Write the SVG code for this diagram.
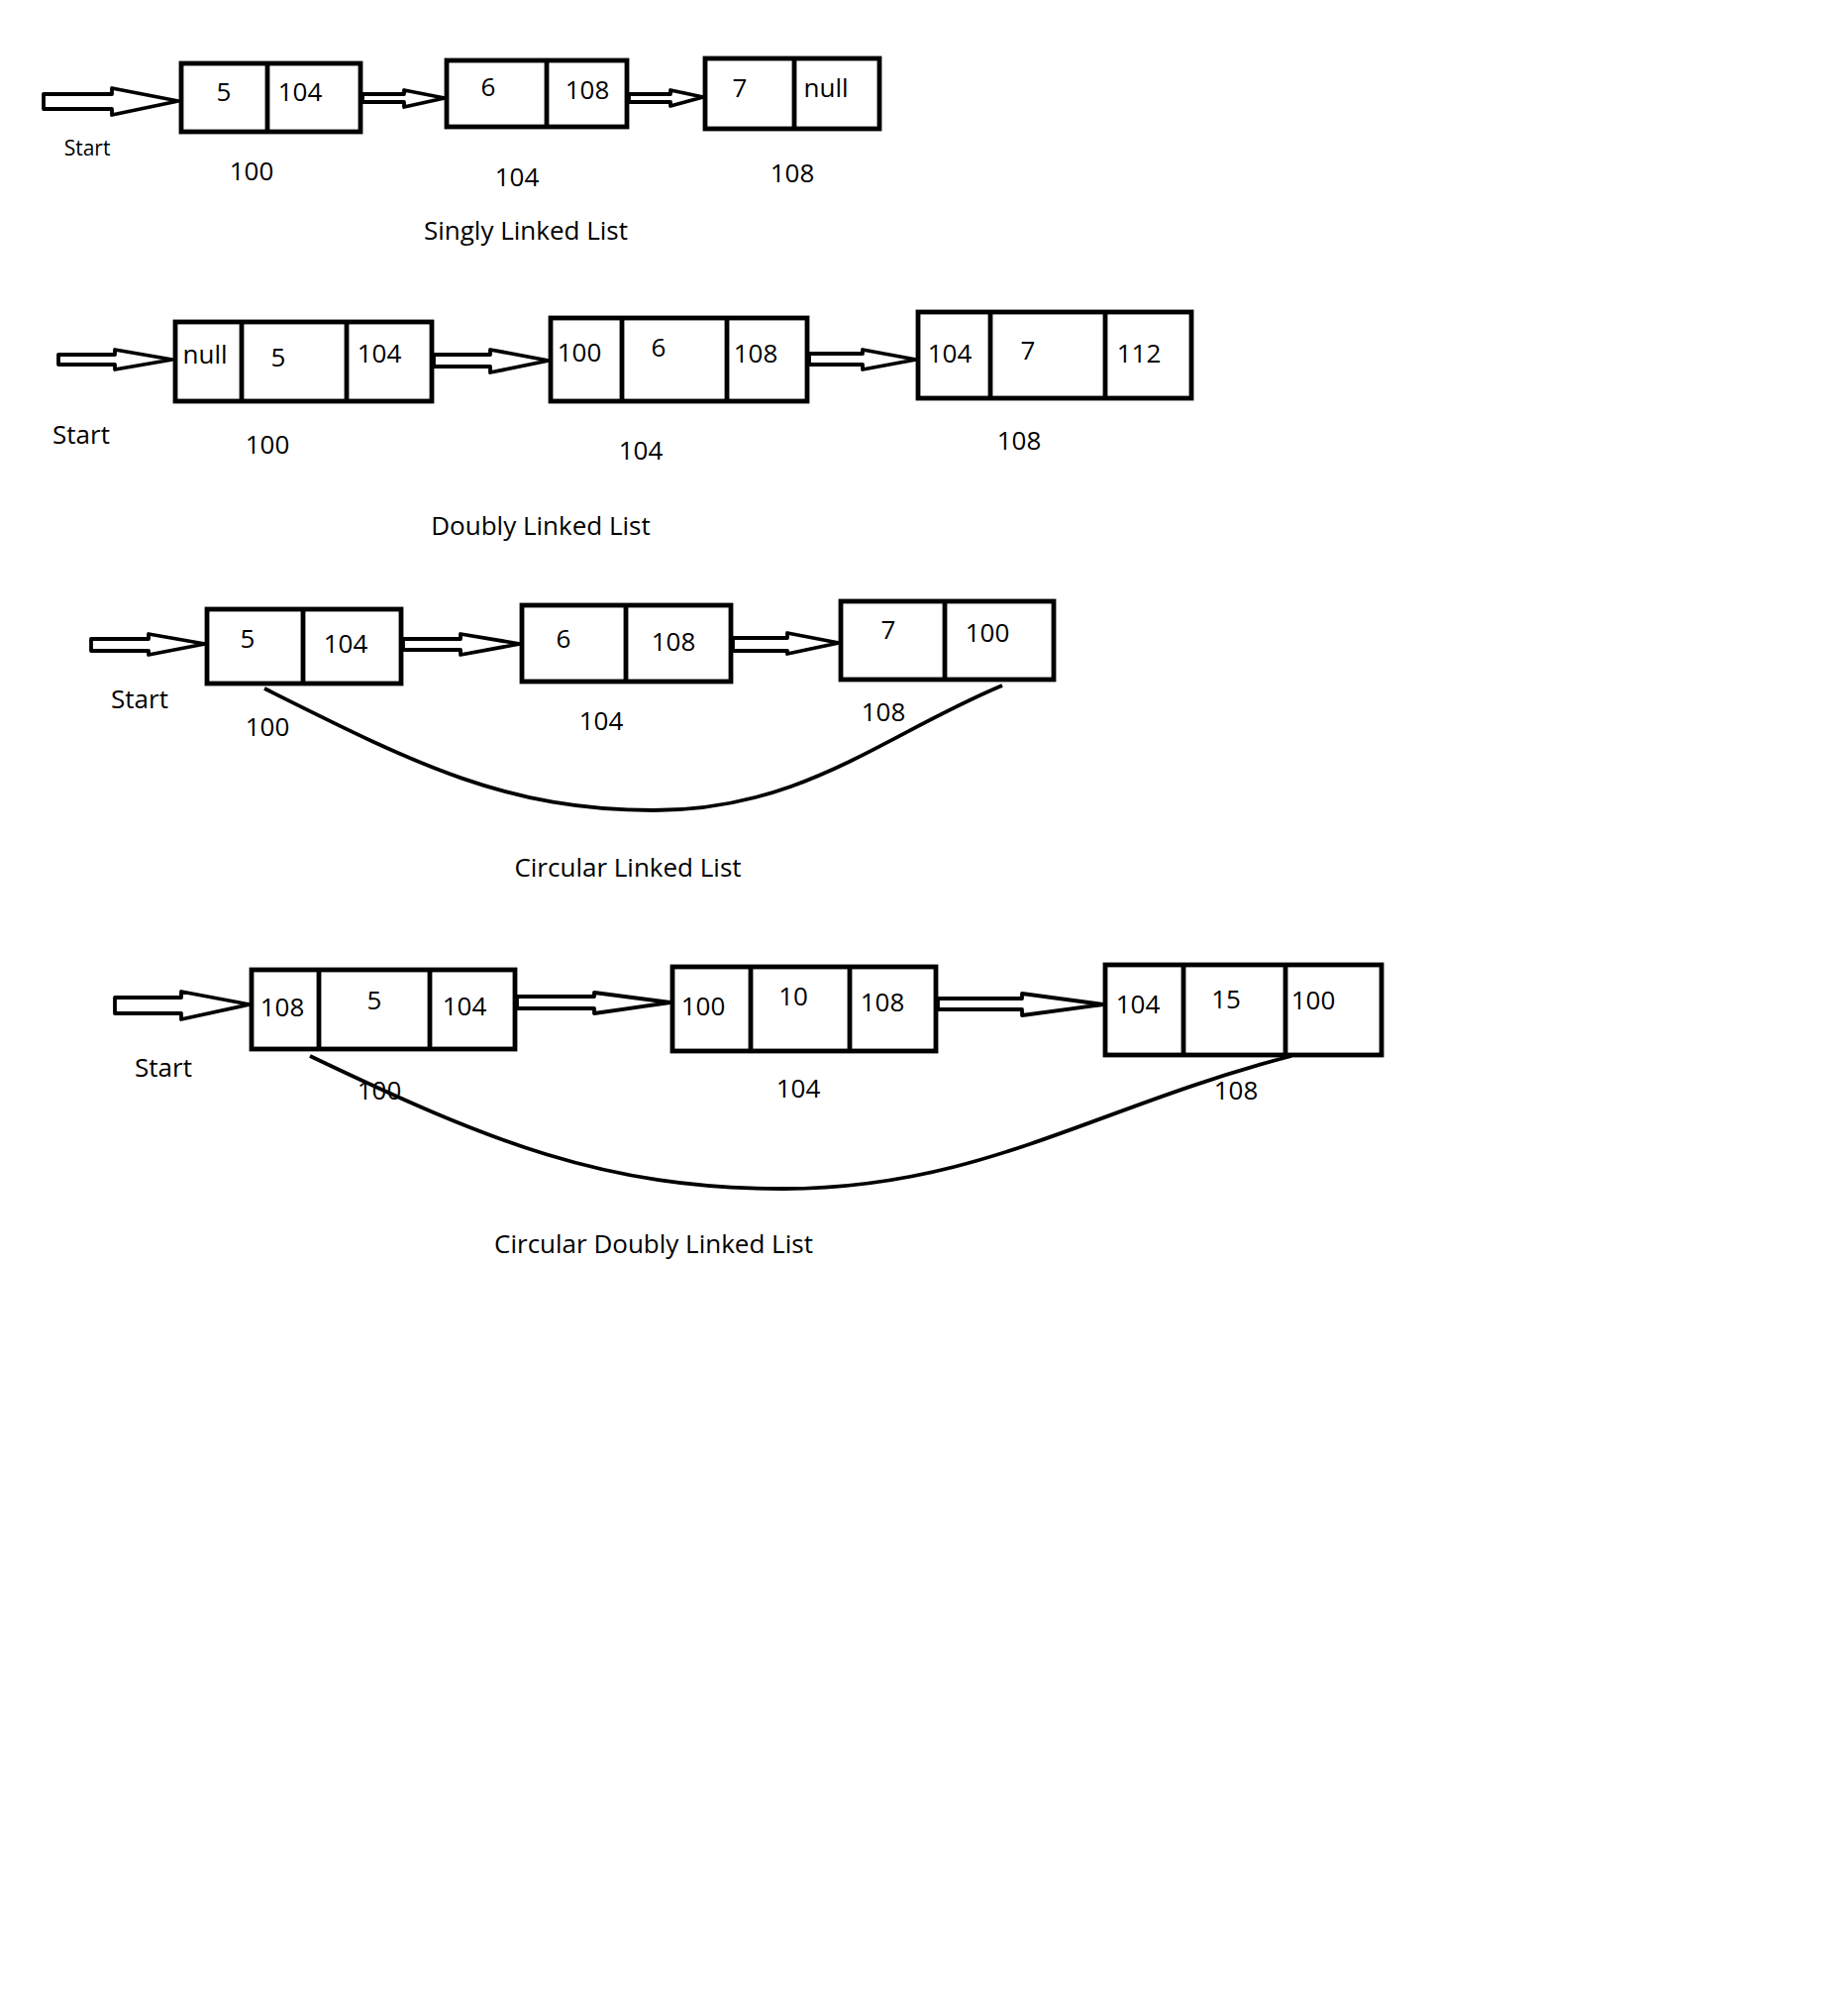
<svg xmlns="http://www.w3.org/2000/svg" width="1866" height="2020" viewBox="0 0 1866 2020">
  <style>
    .box { fill: #ffffff; stroke: #000000; stroke-width: 4.8; }
    .div { stroke: #000000; stroke-width: 4.8; }
    .arr { fill: #ffffff; stroke: #000000; stroke-width: 3.8; stroke-linejoin: round; }
    .loop { fill: none; stroke: #000000; stroke-width: 3.8; }
    text { font-family: "Open Sans", "Noto Sans", sans-serif; font-size: 26px; fill: #000000; text-anchor: middle; }
    .small { font-size: 21px; }
  </style>
  <rect width="1866" height="2020" fill="#ffffff"/>

  <!-- links: start pointers, next pointers and wrap-around curves -->
  <g id="connectors">
    <!-- singly linked list -->
    <polygon class="arr" points="44,95 113,95 113,89 180,102 113,116 113,110 44,110"/>
    <polygon class="arr" points="366,95 408,95 408,91 449,99 408,108 408,103 366,103"/>
    <polygon class="arr" points="635,95 677,95 677,91 710,98 677,107 677,103 635,103"/>
    <!-- doubly linked list -->
    <polygon class="arr" points="59,358 116,358 116,353 174,363 116,373 116,368 59,368"/>
    <polygon class="arr" points="438,358 495,358 495,353 554,364 495,376 495,370 438,370"/>
    <polygon class="arr" points="817,357 871,357 871,353 925,363 871,373 871,368 817,368"/>
    <!-- circular linked list -->
    <polygon class="arr" points="92,645 150,645 150,640 207,650 150,661 150,657 92,657"/>
    <polygon class="arr" points="407,645 465,645 465,640 525,650 465,661 465,656 407,656"/>
    <polygon class="arr" points="740,644 795,644 795,639 847,649 795,660 795,657 740,657"/>
    <path class="loop" d="M267,695 C417,770 510,818 660,818 C810,818 892,742 1012,692"/>
    <!-- circular doubly linked list -->
    <polygon class="arr" points="116,1007 183,1007 183,1001 252,1014 183,1029 183,1023 116,1023"/>
    <polygon class="arr" points="522,1006 600,1006 600,1002 677,1012 600,1023 600,1018 522,1018"/>
    <polygon class="arr" points="947,1008 1032,1008 1032,1003 1114,1014 1032,1025 1032,1019 947,1019"/>
    <path class="loop" d="M313,1066 C493,1152 610,1200 790,1200 C990,1200 1104,1118 1304,1066"/>
  </g>

  <!-- Singly Linked List -->
  <g id="sll-node-100">
    <rect class="box" x="183" y="64" width="181" height="69"/>
    <line class="div" x1="270" y1="64" x2="270" y2="133"/>
    <text x="226" y="102">5</text>
    <text x="303" y="102">104</text>
  </g>
  <g id="sll-node-104">
    <rect class="box" x="451" y="61" width="182" height="67"/>
    <line class="div" x1="552" y1="61" x2="552" y2="128"/>
    <text x="493" y="97">6</text>
    <text x="593" y="100">108</text>
  </g>
  <g id="sll-node-108">
    <rect class="box" x="712" y="59" width="176" height="71"/>
    <line class="div" x1="802" y1="59" x2="802" y2="130"/>
    <text x="747" y="98">7</text>
    <text x="834" y="98">null</text>
  </g>
  <g id="sll-labels">
    <text class="small" x="88" y="157">Start</text>
    <text x="254" y="182">100</text>
    <text x="522" y="188">104</text>
    <text x="800" y="184">108</text>
    <text x="531" y="242">Singly Linked List</text>
  </g>

  <!-- Doubly Linked List -->
  <g id="dll-node-100">
    <rect class="box" x="177" y="325" width="259" height="80"/>
    <line class="div" x1="244" y1="325" x2="244" y2="405"/>
    <line class="div" x1="350" y1="325" x2="350" y2="405"/>
    <text x="207" y="367">null</text>
    <text x="281" y="370">5</text>
    <text x="383" y="366">104</text>
  </g>
  <g id="dll-node-104">
    <rect class="box" x="556" y="321" width="259" height="84"/>
    <line class="div" x1="628" y1="321" x2="628" y2="405"/>
    <line class="div" x1="734" y1="321" x2="734" y2="405"/>
    <text x="585" y="365">100</text>
    <text x="665" y="360">6</text>
    <text x="763" y="366">108</text>
  </g>
  <g id="dll-node-108">
    <rect class="box" x="927" y="315" width="276" height="87"/>
    <line class="div" x1="1000" y1="315" x2="1000" y2="402"/>
    <line class="div" x1="1116" y1="315" x2="1116" y2="402"/>
    <text x="959" y="366">104</text>
    <text x="1038" y="363">7</text>
    <text x="1150" y="366">112</text>
  </g>
  <g id="dll-labels">
    <text x="82" y="448">Start</text>
    <text x="270" y="458">100</text>
    <text x="647" y="464">104</text>
    <text x="1029" y="454">108</text>
    <text x="546" y="540">Doubly Linked List</text>
  </g>

  <!-- Circular Linked List -->
  <g id="cll-node-100">
    <rect class="box" x="209" y="615" width="196" height="75"/>
    <line class="div" x1="306" y1="615" x2="306" y2="690"/>
    <text x="250" y="654">5</text>
    <text x="349" y="659">104</text>
  </g>
  <g id="cll-node-104">
    <rect class="box" x="527" y="611" width="211" height="77"/>
    <line class="div" x1="632" y1="611" x2="632" y2="688"/>
    <text x="569" y="654">6</text>
    <text x="680" y="657">108</text>
  </g>
  <g id="cll-node-108">
    <rect class="box" x="849" y="607" width="215" height="79"/>
    <line class="div" x1="954" y1="607" x2="954" y2="686"/>
    <text x="897" y="645">7</text>
    <text x="997" y="648">100</text>
  </g>
  <g id="cll-labels">
    <text x="141" y="715">Start</text>
    <text x="270" y="743">100</text>
    <text x="607" y="737">104</text>
    <text x="892" y="728">108</text>
    <text x="634" y="885">Circular Linked List</text>
  </g>

  <!-- Circular Doubly Linked List -->
  <g id="cdll-node-100">
    <rect class="box" x="254" y="979" width="266" height="80"/>
    <line class="div" x1="322" y1="979" x2="322" y2="1059"/>
    <line class="div" x1="434" y1="979" x2="434" y2="1059"/>
    <text x="285" y="1026">108</text>
    <text x="378" y="1019">5</text>
    <text x="469" y="1025">104</text>
  </g>
  <g id="cdll-node-104">
    <rect class="box" x="679" y="976" width="266" height="85"/>
    <line class="div" x1="758" y1="976" x2="758" y2="1061"/>
    <line class="div" x1="858" y1="976" x2="858" y2="1061"/>
    <text x="710" y="1025">100</text>
    <text x="801" y="1015">10</text>
    <text x="891" y="1021">108</text>
  </g>
  <g id="cdll-node-108">
    <rect class="box" x="1116" y="974" width="279" height="91"/>
    <line class="div" x1="1195" y1="974" x2="1195" y2="1065"/>
    <line class="div" x1="1298" y1="974" x2="1298" y2="1065"/>
    <text x="1149" y="1023">104</text>
    <text x="1238" y="1018">15</text>
    <text x="1326" y="1019">100</text>
  </g>
  <g id="cdll-labels">
    <text x="165" y="1087">Start</text>
    <text x="383" y="1110">100</text>
    <text x="806" y="1108">104</text>
    <text x="1248" y="1110">108</text>
    <text x="660" y="1265">Circular Doubly Linked List</text>
  </g>
</svg>
